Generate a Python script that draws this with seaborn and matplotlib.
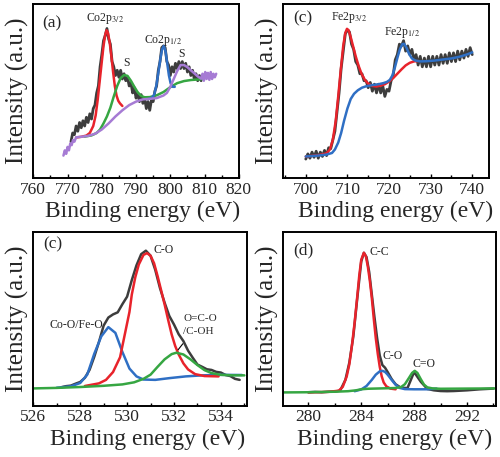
import matplotlib
matplotlib.use("Agg")
import matplotlib.pyplot as plt
import seaborn as sns
import numpy as np

# ---------------- (a) Co 2p ----------------
a_energy = np.arange(771.0, 809.01, 0.5)
a_counts = [21, 26, 25, 30, 27, 32, 29, 33, 30, 35,
            32, 37, 34, 40, 42, 49, 53, 64, 71, 79,
            82, 86, 80, 77, 67, 64, 59, 62, 58, 62,
            57, 60, 56, 58, 53, 55, 49, 52, 46, 49,
            44, 48, 43, 46, 40, 44, 39, 45, 44, 50,
            53, 62, 67, 75, 76, 75, 67, 65, 59, 64,
            61, 66, 63, 67, 63, 67, 63, 66, 61, 64,
            59, 62, 57, 60, 56, 59, 56]

a_bg_x = [768.8, 769.2, 769.6, 770.0, 770.4, 770.8, 771.2, 771.6, 772.0, 772.5,
          774, 776, 778, 780, 782, 784, 786, 788, 790, 792, 794, 796, 798, 799,
          800, 801, 802, 803, 804, 805, 806, 807, 808, 809,
          809.4, 809.8, 810.2, 810.6, 811.0, 811.4, 811.8, 812.2, 812.6, 813.0, 813.4]
a_bg_y = [13, 16, 14, 18, 16, 20, 19, 22, 21, 23.5,
          23.8, 24.3, 25.5, 28, 31.5, 35.5, 39, 42, 44, 45.3, 45.6, 46, 47.5, 49,
          52.5, 57, 61.5, 65, 65, 63.8, 62, 60.3, 58.5, 57.2,
          60, 56, 61, 57, 60.5, 56.5, 61, 57, 60, 58, 60]

a_sat_x = [775, 777, 778.5, 779.5, 780.5, 781.5, 782.5, 783.5, 784.5, 785.5, 786.5,
           787.5, 788.5, 789.5, 790.5, 791.5, 792.5, 794, 796, 798, 800, 802, 804,
           806, 808, 809.5]
a_sat_y = [23.9, 24.6, 26, 28, 31.5, 35.5, 40.5, 47, 53, 57.5, 59.3,
           58.8, 56, 52.5, 49.3, 47.3, 46.5, 46.6, 47.6, 49.5, 52.3, 54.6, 55.8,
           56.4, 56.7, 57]

a_p32_x = [772.5, 774, 775.5, 776.5, 777.5, 778.2, 778.8, 779.4, 780, 780.5, 781,
           781.4, 781.8, 782.3, 782.8, 783.3, 783.8, 784.3, 784.8, 785.3, 786]
a_p32_y = [23.4, 23.8, 24.5, 26, 30, 36, 45, 56, 67, 76, 82.5,
           85, 83.5, 78, 70, 61, 53, 47.5, 44.5, 43, 41.5]

a_p12_x = [793.5, 794.5, 795.3, 795.9, 796.5, 797.1, 797.6, 798.1, 798.6, 799.1,
           799.6, 800.1, 800.7, 801.3]
a_p12_y = [45.5, 46, 48, 53, 60.5, 68.5, 74, 76, 73, 66,
           59, 54.5, 52.5, 52.5]

# ---------------- (b) Fe 2p ----------------
b_energy = np.arange(700.0, 740.01, 0.5)
b_counts = [11, 14, 11.5, 15, 12, 15.5, 11.5, 15, 12.5, 16,
            13, 17.5, 17, 22, 27, 38, 49, 63, 73, 83,
            85, 84, 77, 74, 67, 65, 60, 60, 56, 56,
            52, 55, 50, 54, 49, 54, 49, 53, 47, 51,
            50, 56, 59, 68, 71, 77, 76, 79, 73, 76,
            71, 74, 68, 71, 65, 70, 64, 69, 64, 70,
            64, 70, 65, 70, 65, 71, 66, 71, 66, 72,
            67, 72, 67, 73, 68, 73, 69, 74, 70, 75,
            71]

b_p32_x = [700, 703, 705, 705.8, 706.5, 707.2, 707.8, 708.4, 709, 709.5, 709.9,
           710.3, 710.8, 711.4, 712, 712.7, 713.4, 714.2, 715, 716, 717, 718,
           719, 720, 721, 722, 723, 724, 725, 726, 727]
b_p32_y = [12.5, 13.2, 14.3, 16.5, 22, 33, 47, 62, 76, 83.5, 85.8,
           85, 81, 75.5, 70, 64.5, 60, 56.5, 54.3, 53, 52.7, 53.2,
           54, 55.5, 57.5, 60, 62.5, 64.8, 66.3, 67.1, 67.3]

b_p12_x = [700, 703, 705, 706.3, 707, 707.8, 708.5, 709.2, 710, 710.8, 711.6,
           712.5, 713.5, 714.5, 716, 717.5, 718.6, 719.5, 720.2, 720.8, 721.4,
           722, 722.6, 723.2, 723.6, 724.2, 724.8, 725.5, 726.3, 727.5, 729,
           731, 733, 735, 737, 739, 740]
b_p12_y = [12.5, 13, 13.6, 14.5, 16.5, 20.5, 26, 33, 40, 45.5, 48.5,
           50.5, 52, 52.8, 53.5, 54, 54.6, 55.3, 56.5, 59, 63.5,
           69, 74, 77, 77.2, 75, 71.5, 68.8, 67.6, 67.1, 67.2,
           67.6, 68.2, 68.8, 69.8, 71.3, 72.3]

# ---------------- (c) O 1s ----------------
c_energy = np.arange(527.2, 534.81, 0.2)
c_counts = [10.8, 11.4, 11.7, 12.8, 13.8, 16.2, 20.8, 28.3, 36.8, 46.2,
            50.8, 52.6, 53.8, 58.5, 62.8, 72.3, 80.8, 87.2, 89.2, 86.3,
            78.2, 67.8, 59.3, 51.7, 46.8, 41.2, 37.3, 31.8, 27.7, 23.8,
            22.5, 21.1, 20.7, 19.6, 19.2, 17.8, 17.2, 15.6, 15.0]

c_mo_x = [527.0, 527.6, 528.0, 528.3, 528.6, 528.9, 529.2, 529.5, 529.8, 530.1,
          530.4, 530.7, 531.2, 531.8, 532.5, 533.2, 534.0, 534.9]
c_mo_y = [10.5, 11.3, 13.2, 18, 30, 40, 45.3, 42, 31, 21.5,
          17, 15.2, 15, 16, 17, 17.6, 17.9, 17.8]

c_co_x = [528.2, 528.8, 529.1, 529.4, 529.7, 529.9, 530.1, 530.2, 530.35, 530.5,
          530.7, 530.85, 531.0, 531.15, 531.3, 531.45, 531.6, 531.75, 531.9,
          532.05, 532.2, 532.4, 532.6, 532.9, 533.3, 533.9]
c_co_y = [11.5, 13, 15, 19.5, 28, 41, 54, 64, 74, 81.3,
          86.8, 87.8, 86.3, 82, 74.6, 66.5, 58.3, 49.5, 41.1,
          34.5, 29.6, 24.5, 21, 18.3, 17.2, 17]

c_oco_x = [526.0, 527.0, 528.0, 529.0, 529.8, 530.3, 530.7, 531.0, 531.3, 531.6,
           531.9, 532.1, 532.4, 532.7, 533.0, 533.3, 533.6, 534.0, 534.5, 535.0]
c_oco_y = [10.1, 10.4, 10.9, 11.6, 12.4, 13.6, 15.6, 18, 22.5, 26.8,
           29.8, 30.6, 29.6, 26.8, 23.5, 20.6, 18.9, 17.9, 17.6, 17.6]

# ---------------- (d) C 1s ----------------
d_energy = [280.0, 280.5, 281.0, 281.5, 282.0, 282.4, 282.8, 283.1, 283.4, 283.7,
            284.0, 284.2, 284.4, 284.6, 284.8, 285.0, 285.2, 285.4, 285.6, 285.8,
            286.0, 286.3, 286.6, 287.0, 287.5, 288.0, 288.5, 289.0, 289.5, 290.0,
            290.5, 291.0, 291.5, 292.0, 292.5, 293.0, 293.5, 294.0]
d_counts = [7.9, 8.1, 7.9, 8.2, 8.3, 8.8, 15, 25, 40, 62,
            83, 88, 85.5, 77, 64, 51, 39, 29, 23.5, 22,
            19.5, 15.5, 12.5, 10.5, 10.3, 19.5, 14, 9.8, 9.0, 8.6,
            8.5, 8.6, 8.8, 9.0, 9.3, 9.6, 9.8, 10]

d_cc_x = [280.0, 281.5, 282.3, 282.6, 282.9, 283.1, 283.3, 283.5, 283.7, 283.85,
          284.0, 284.2, 284.35, 284.5, 284.65, 284.8, 284.95, 285.1, 285.25, 285.4,
          285.55, 285.7, 285.9, 286.2, 286.6]
d_cc_y = [7.8, 8.1, 8.8, 11, 17, 24, 35, 48, 63, 75,
          84, 88, 86, 80, 72, 62, 50, 39, 30, 22.5,
          17, 13.5, 11.3, 10, 9.6]

d_co_x = [283.5, 284.0, 284.4, 284.8, 285.1, 285.4, 285.6, 285.8, 286.0, 286.3,
          286.6, 286.9, 287.3, 288.0, 289.0, 289.7]
d_co_y = [8.5, 9.5, 11.5, 15, 18, 19.9, 20.2, 19.6, 18, 15,
          12.2, 10.4, 9.7, 9.6, 9.6, 10]

d_c2o_x = [278.1, 280, 282, 283, 283.6, 284.0, 284.5, 285.5, 286.5, 287.0, 287.3,
           287.6, 287.85, 288.05, 288.25, 288.5, 288.75, 289.0, 289.4, 290, 292, 294.2]
d_c2o_y = [7.8, 7.9, 8.2, 8.5, 9.0, 9.6, 9.9, 10.1, 10.3, 10.8, 12.5,
           16, 19, 20.2, 19, 15.5, 12.3, 10.7, 10.1, 9.9, 10, 10.1]

# colours
RED = '#e8232b'
BLUE = '#2f6fc4'
GREEN = '#36a642'
PURPLE = '#a67bd4'
GREY = '#3d3d3d'

sns.set_style("ticks")
plt.rcParams['font.family'] = ['Liberation Serif', 'DejaVu Serif']
plt.rcParams['mathtext.fontset'] = 'stix'

fig = plt.figure(figsize=(5.0, 4.57), dpi=100)


def curve(ax, x, y, color, lw=1.8, z=2):
    sns.lineplot(x=list(x), y=list(y), ax=ax, color=color, lw=lw,
                 estimator=None, sort=False, zorder=z)


def style(ax, xlim, major, minor, lx):
    ax.set_xlim(*xlim)
    ax.set_ylim(0, 100)
    ax.set_xticks(major)
    ax.set_xticks(minor, minor=True)
    ax.set_yticks([])
    ax.tick_params(axis='x', which='both', direction='in', top=False,
                   labelsize=12.5, pad=2.5, width=1, color='black')
    ax.tick_params(axis='x', which='major', length=3)
    ax.tick_params(axis='x', which='minor', length=2.5)
    for s in ax.spines.values():
        s.set_linewidth(1.4)
        s.set_color('black')
        s.set_visible(True)
    ax.set_xlabel('Binding energy (eV)', fontsize=17)
    ax.xaxis.set_label_coords(lx, -0.13)
    ax.set_ylabel('Intensity (a.u.)', fontsize=18, labelpad=3)


ann = dict(fontsize=8.5, ha='center', va='center')

# (a)
ax1 = fig.add_axes([0.0666, 0.610, 0.411, 0.381])
curve(ax1, a_energy, a_counts, GREY, lw=2.0, z=1)
curve(ax1, a_p32_x, a_p32_y, RED)
curve(ax1, a_sat_x, a_sat_y, GREEN)
curve(ax1, a_p12_x, a_p12_y, BLUE)
curve(ax1, a_bg_x, a_bg_y, PURPLE)
style(ax1, (760, 820), [760, 770, 780, 790, 800, 810, 820],
      [765, 775, 785, 795, 805, 815], 0.533)
ax1.text(0.09, 0.89, '(a)', transform=ax1.transAxes, fontsize=12.5, ha='center', va='center')
ax1.text(780.9, 92, 'Co2p$_{3/2}$', **ann)
ax1.text(787.2, 66.3, 'S', **ann)
ax1.text(797.8, 78.9, 'Co2p$_{1/2}$', **ann)
ax1.text(803.3, 71.3, 'S', **ann)

# (b)
ax2 = fig.add_axes([0.5666, 0.610, 0.412, 0.381])
curve(ax2, b_energy, b_counts, GREY, lw=2.0, z=1)
curve(ax2, b_p32_x, b_p32_y, RED)
curve(ax2, b_p12_x, b_p12_y, BLUE)
style(ax2, (694.6, 744.1), [700, 710, 720, 730, 740],
      [695, 705, 715, 725, 735], 0.547)
ax2.text(0.096, 0.92, '(c)', transform=ax2.transAxes, fontsize=12.5, ha='center', va='center')
ax2.text(710.4, 92.1, 'Fe2p$_{3/2}$', **ann)
ax2.text(723.1, 83.5, 'Fe2p$_{1/2}$', **ann)

# (c)
ax3 = fig.add_axes([0.0666, 0.1116, 0.4268, 0.381])
curve(ax3, c_energy, c_counts, GREY, lw=1.8, z=1)
curve(ax3, c_mo_x, c_mo_y, BLUE)
curve(ax3, c_co_x, c_co_y, RED)
curve(ax3, c_oco_x, c_oco_y, GREEN)
style(ax3, (526, 535.1), [526, 528, 530, 532, 534],
      [527, 529, 531, 533, 535], 0.535)
ax3.text(0.092, 0.928, '(c)', transform=ax3.transAxes, fontsize=12.5, ha='center', va='center')
ax3.text(531.55, 89.5, 'C-O', **ann)
ax3.text(527.83, 46.3, 'Co-O/Fe-O', **ann)
ax3.text(532.4, 50.5, 'O=C-O', fontsize=8, ha='left', va='center')
ax3.text(532.4, 43.0, '/C-OH', fontsize=8, ha='left', va='center')
ax3.annotate('', xy=(532.1, 31), xytext=(532.45, 37),
             arrowprops=dict(arrowstyle='-', lw=0.8, color='black'))

# (d)
ax4 = fig.add_axes([0.5666, 0.1116, 0.4254, 0.381])
curve(ax4, d_energy, d_counts, GREY, lw=1.8, z=1)
curve(ax4, d_cc_x, d_cc_y, RED)
curve(ax4, d_co_x, d_co_y, BLUE)
curve(ax4, d_c2o_x, d_c2o_y, GREEN)
style(ax4, (278.1, 294.2), [280, 284, 288, 292], [282, 286, 290, 294], 0.525)
ax4.text(0.094, 0.894, '(d)', transform=ax4.transAxes, fontsize=12.5, ha='center', va='center')
ax4.text(285.36, 88.4, 'C-C', **ann)
ax4.text(286.37, 29, 'C-O', **ann)
ax4.text(288.77, 24.2, 'C=O', **ann)

fig.savefig('out.png', dpi=100)
